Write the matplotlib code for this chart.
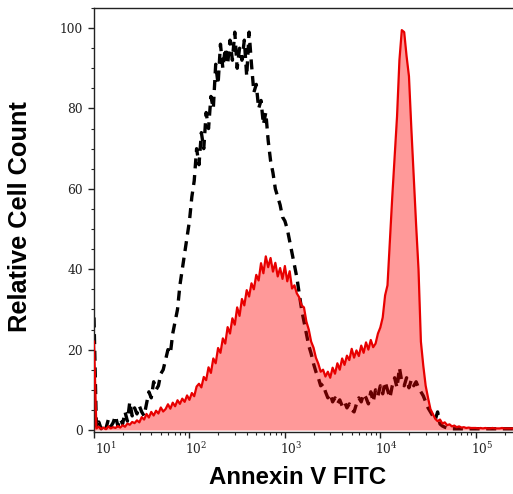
import numpy as np
import matplotlib
matplotlib.use('Agg')
import matplotlib.pyplot as plt
from matplotlib.ticker import FixedLocator, LogLocator, NullFormatter, MultipleLocator
from matplotlib.transforms import ScaledTranslation

plt.rcParams['mathtext.fontset'] = 'dejavuserif'

# channel positions (log10 of Annexin V FITC intensity)
log_channels = np.linspace(1.0, 5.4, 177)

# stained sample (red, filled)
stained = [
    22.0, 0.4, 0.8, 0.3, 0.6, 0.2, 0.9, 0.4, 0.7, 0.5,
    1.0, 0.6, 1.2, 0.8, 1.6, 1.3, 2.0, 1.7, 2.4, 1.9,
    3.2, 2.6, 4.0, 3.1, 4.5, 3.6, 4.8, 4.1, 5.6, 4.6,
    5.2, 6.4, 5.3, 6.8, 5.9, 7.4, 6.5, 7.8, 7.0, 8.6,
    7.5, 9.2, 8.4, 10.8, 11.5, 10.6, 13.2, 12.4, 15.6, 14.2,
    17.8, 16.6, 20.4, 19.2, 22.8, 21.5, 25.6, 24.0, 27.8, 26.2,
    30.5, 28.4, 32.6, 31.0, 34.8, 33.2, 36.5, 35.0, 38.6, 37.2,
    41.5, 39.0, 43.2, 40.5, 42.8, 39.4, 41.6, 38.2, 40.3, 37.6,
    40.8, 37.0, 39.5, 35.2, 36.0, 34.0, 33.0, 31.0, 30.5, 27.0,
    25.0, 22.0, 20.5, 18.0, 16.5, 14.5, 15.0, 13.3, 14.5, 13.0,
    15.5, 14.0, 16.6, 15.0, 17.8, 16.2, 18.5, 17.4, 20.2, 18.0,
    19.8, 18.4, 21.0, 19.2, 21.8, 20.0, 22.4, 20.6, 21.5, 24.0,
    25.5, 28.0, 33.5, 36.0, 47.0, 58.0, 68.0, 78.0, 92.0, 99.5,
    99.0, 93.0, 88.0, 75.0, 63.0, 51.0, 40.0, 22.0, 16.0, 11.0,
    8.0, 5.2, 4.0, 2.8, 2.2, 2.6, 1.6, 1.9, 1.2, 1.4,
    0.9, 1.1, 0.7, 0.9, 0.6, 0.7, 0.5, 0.6, 0.5, 0.5,
    0.5, 0.4, 0.5, 0.4, 0.5, 0.4, 0.4, 0.5, 0.4, 0.4,
    0.4, 0.5, 0.4, 0.4, 0.4, 0.4, 0.4,
]

# unstained control (black, dashed)
control = [
    28.0, 0.5, 2.0, 0.3, 1.5, 0.4, 2.6, 0.8, 1.8, 3.5,
    1.0, 2.8, 1.5, 4.5, 2.2, 7.0, 3.5, 5.5, 4.0, 6.0,
    4.5, 3.5, 6.5, 9.5, 8.0, 12.0, 10.0, 11.0, 14.0, 15.0,
    17.5, 20.0, 19.0, 24.0, 27.0, 30.0, 36.0, 40.0, 44.0, 48.0,
    52.0, 58.0, 62.0, 70.0, 66.0, 74.0, 70.0, 79.0, 75.0, 83.0,
    80.0, 91.0, 86.0, 96.0, 90.0, 95.0, 91.0, 97.0, 92.0, 99.0,
    90.0, 95.0, 92.0, 97.0, 88.0, 99.0, 91.0, 84.0, 86.0, 80.0,
    82.0, 76.0, 79.0, 72.0, 67.0, 64.0, 60.0, 58.0, 56.0, 53.0,
    52.0, 50.0, 47.0, 44.0, 41.0, 38.0, 34.0, 30.0, 27.0, 24.0,
    21.0, 19.0, 16.5, 14.5, 13.0, 11.0, 11.5, 9.5, 8.0, 9.0,
    7.0, 8.0, 6.5, 7.5, 6.0, 7.0, 5.5, 6.5, 5.0, 4.5,
    6.5, 8.0, 7.0, 9.0, 8.0, 6.5, 9.5, 7.0, 10.0, 8.5,
    11.0, 9.0, 12.0, 10.0, 8.0, 11.0, 13.0, 10.5, 15.5, 12.0,
    11.0, 13.0, 10.5, 12.5, 11.0, 12.0, 10.5, 9.5, 8.5, 7.0,
    5.5, 4.5, 3.5, 2.5, 4.5, 1.5, 1.0, 0.7, 0.5, 0.4,
    0.3, 0.3, 0.3, 0.3, 0.3, 0.3, 0.3, 0.3, 0.3, 0.3,
    0.3, 0.3, 0.3, 0.3, 0.3, 0.3, 0.3, 0.3, 0.3, 0.3,
    0.3, 0.3, 0.3, 0.3, 0.3, 0.3, 0.3,
]

x = 10 ** log_channels

fig = plt.figure(figsize=(5.13, 4.94), dpi=100)
ax = fig.add_axes([94 / 513, 1 - 432 / 494, 1 - 94 / 513, 424 / 494])

# control first, the red fill sits over it
ax.plot(x, control, color='black', lw=2.4, ls=(0, (3, 2)), zorder=2)
ax.fill_between(x, 0, stained, color='red', alpha=0.4, lw=0, zorder=3)
ax.plot(x, stained, color='#e80000', lw=1.6, zorder=4)

ax.set_xscale('log')
ax.set_xlim(10, 10 ** 5.39)
ax.set_ylim(-0.5, 105)

ax.xaxis.set_major_locator(FixedLocator([1e1, 1e2, 1e3, 1e4, 1e5]))
ax.set_xticklabels([r'$10^{1}$', r'$10^{2}$', r'$10^{3}$', r'$10^{4}$', r'$10^{5}$'])
ax.xaxis.set_minor_locator(LogLocator(base=10, subs=np.arange(2, 10)))
ax.xaxis.set_minor_formatter(NullFormatter())

ax.set_yticks([0, 20, 40, 60, 80, 100])
ax.yaxis.set_minor_locator(MultipleLocator(5))

ax.tick_params(axis='both', which='major', direction='out', length=4.5, width=1,
               color='#222222', labelsize=8.8, labelcolor='#222222')
ax.tick_params(axis='both', which='minor', direction='out', length=2.5, width=0.8,
               color='#222222')
ax.tick_params(axis='x', which='major', pad=2)
for lab in ax.get_yticklabels():
    lab.set_fontfamily('DejaVu Serif')

# tick labels sit a little right of their ticks in the original
for i, lab in enumerate(ax.get_xticklabels()):
    dx = 0.12 if i == 0 else 0.065
    lab.set_transform(lab.get_transform() + ScaledTranslation(dx, 0, fig.dpi_scale_trans))

for side in ['left', 'bottom', 'top']:
    ax.spines[side].set_color('#222222')
    ax.spines[side].set_linewidth(1.0)
ax.spines['right'].set_visible(False)

ax.set_xlabel('Annexin V FITC', fontsize=17.3, fontweight='bold',
              fontfamily='Liberation Sans')
ax.set_ylabel('Relative Cell Count', fontsize=18.3, fontweight='bold',
              fontfamily='Liberation Sans')
ax.xaxis.label.set_verticalalignment('center')
ax.yaxis.label.set_verticalalignment('center')
ax.xaxis.set_label_coords(0.485, -0.108)
ax.yaxis.set_label_coords(-0.177, 0.507)

fig.savefig('out.png', dpi=100, facecolor='white')
